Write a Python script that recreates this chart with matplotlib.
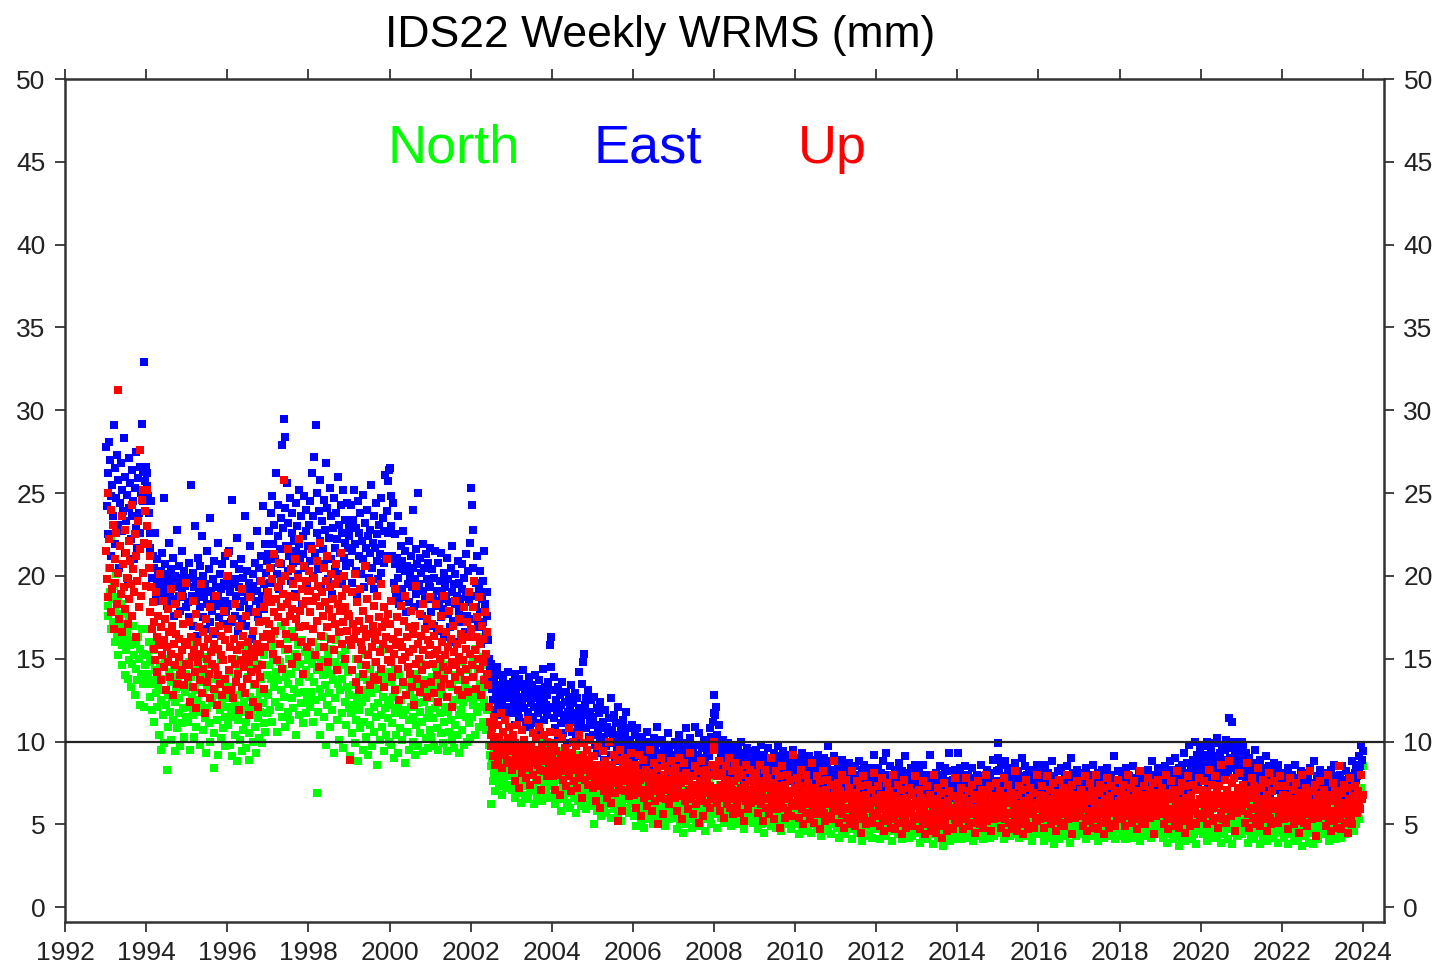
import numpy as np
import matplotlib
matplotlib.use("Agg")
import matplotlib.pyplot as plt

plt.rcParams['font.family'] = ['Liberation Sans', 'DejaVu Sans']

# weekly WRMS values, one row per year (1993..2023), in units of 0.1 mm
years = list(range(1993, 2024))

north_wrms = [
    [215, 198, 182, 176, 205, 190, 168, 222, 186, 172, 194, 160, 178, 201, 165, 187, 152, 174, 169, 183, 158, 146, 177, 162, 140, 171, 155, 166, 138, 149, 176, 158, 133, 161, 147, 170, 152, 128, 159, 144, 137, 163, 150, 122, 156, 141, 168, 135, 153, 121, 146, 139],
    [168, 152, 141, 160, 127, 148, 135, 119, 155, 137, 112, 143, 129, 158, 121, 134, 104, 146, 125, 95, 138, 116, 131, 99, 150, 122, 83, 128, 109, 142, 118, 136, 101, 127, 113, 145, 94, 124, 132, 108, 139, 117, 126, 97, 133, 111, 147, 120, 103, 130, 115, 141],
    [134, 112, 148, 121, 95, 139, 127, 158, 116, 103, 131, 144, 109, 125, 162, 118, 98, 136, 122, 141, 107, 129, 151, 114, 93, 133, 120, 146, 111, 126, 100, 138, 123, 155, 84, 105, 130, 143, 113, 92, 128, 137, 119, 102, 149, 124, 108, 135, 115, 97, 132, 121],
    [126, 110, 142, 98, 119, 133, 91, 115, 150, 104, 122, 137, 88, 113, 128, 145, 101, 118, 94, 131, 107, 124, 156, 112, 96, 120, 139, 105, 89, 127, 116, 143, 100, 121, 134, 109, 93, 125, 147, 114, 102, 130, 118, 138, 99, 123, 111, 152, 106, 129, 117, 140],
    [128, 146, 119, 157, 138, 112, 151, 133, 165, 124, 142, 106, 159, 137, 121, 148, 131, 170, 115, 144, 127, 155, 109, 139, 162, 118, 135, 150, 113, 141, 126, 167, 120, 132, 153, 104, 145, 129, 158, 116, 136, 147, 123, 161, 111, 140, 130, 154, 117, 143, 125, 149],
    [139, 121, 154, 130, 147, 112, 160, 136, 125, 151, 69, 143, 118, 157, 132, 104, 149, 127, 140, 115, 163, 134, 98, 145, 122, 153, 129, 109, 141, 156, 119, 137, 93, 148, 126, 161, 113, 135, 144, 101, 131, 152, 117, 138, 96, 146, 124, 155, 110, 133, 142, 120],
    [128, 91, 117, 143, 105, 134, 122, 99, 150, 113, 127, 88, 139, 119, 108, 146, 124, 95, 131, 112, 153, 103, 126, 137, 92, 118, 144, 110, 129, 97, 135, 121, 106, 148, 115, 86, 132, 123, 140, 101, 116, 155, 109, 127, 94, 138, 120, 104, 142, 114, 125, 100],
    [122, 98, 136, 111, 127, 90, 144, 117, 104, 132, 120, 93, 140, 108, 125, 149, 101, 116, 134, 87, 119, 128, 106, 145, 113, 95, 130, 121, 138, 100, 115, 126, 92, 141, 110, 123, 97, 135, 118, 105, 147, 112, 129, 94, 124, 137, 102, 114, 131, 96, 119, 107],
    [126, 103, 139, 114, 97, 131, 120, 145, 108, 123, 95, 136, 117, 150, 105, 128, 99, 142, 112, 121, 134, 94, 118, 127, 106, 146, 113, 101, 133, 122, 96, 140, 110, 125, 104, 137, 116, 93, 130, 119, 148, 107, 124, 98, 135, 115, 129, 100, 143, 111, 126, 102],
    [131, 115, 148, 122, 139, 104, 156, 127, 118, 144, 109, 135, 163, 121, 130, 112, 151, 125, 138, 107, 146, 119, 133, 98, 92, 85, 62, 88, 76, 94, 81, 70, 97, 84, 78, 90, 73, 86, 99, 80, 68, 91, 77, 87, 83, 72, 95, 79, 88, 74, 82, 93],
    [85, 71, 93, 79, 66, 88, 75, 98, 82, 69, 90, 77, 63, 86, 73, 95, 80, 68, 91, 76, 84, 65, 89, 72, 97, 81, 70, 87, 74, 62, 92, 78, 83, 67, 94, 76, 71, 88, 80, 64, 86, 75, 99, 79, 69, 85, 73, 90, 77, 66, 82, 74],
    [80, 67, 91, 74, 62, 85, 71, 77, 94, 65, 83, 70, 58, 88, 75, 68, 81, 73, 96, 63, 86, 72, 79, 60, 84, 69, 90, 76, 66, 82, 57, 78, 87, 64, 73, 92, 70, 61, 84, 75, 68, 89, 72, 80, 59, 77, 66, 86, 71, 63, 79, 74],
    [72, 61, 50, 79, 66, 84, 58, 70, 75, 63, 81, 55, 68, 73, 60, 86, 65, 57, 77, 69, 62, 82, 71, 54, 74, 64, 78, 59, 67, 83, 61, 70, 56, 76, 66, 72, 52, 80, 63, 69, 58, 74, 65, 85, 60, 71, 57, 67, 73, 62, 78, 64],
    [66, 55, 72, 60, 49, 68, 63, 75, 57, 64, 52, 70, 59, 67, 48, 73, 61, 56, 69, 65, 53, 77, 58, 62, 71, 50, 66, 60, 74, 55, 63, 68, 51, 59, 76, 64, 57, 70, 54, 62, 67, 49, 72, 58, 65, 61, 53, 69, 56, 73, 60, 64],
    [63, 54, 70, 58, 47, 66, 61, 73, 52, 60, 68, 56, 45, 64, 59, 71, 50, 62, 57, 67, 53, 74, 60, 48, 65, 55, 69, 62, 51, 58, 72, 56, 63, 49, 67, 60, 54, 70, 57, 64, 46, 61, 66, 53, 59, 75, 55, 62, 50, 68, 58, 61],
    [62, 56, 71, 59, 48, 66, 63, 74, 54, 60, 68, 57, 51, 65, 61, 72, 53, 58, 67, 55, 64, 49, 70, 59, 62, 52, 69, 57, 63, 75, 55, 60, 50, 66, 58, 71, 54, 61, 47, 65, 59, 68, 56, 62, 52, 73, 57, 64, 60, 51, 67, 58],
    [60, 52, 68, 56, 47, 64, 59, 71, 50, 58, 66, 54, 45, 62, 57, 69, 51, 60, 55, 65, 49, 72, 58, 53, 63, 56, 67, 48, 61, 57, 70, 52, 59, 46, 64, 55, 62, 50, 68, 58, 54, 66, 51, 60, 57, 63, 47, 59, 65, 53, 61, 56],
    [57, 50, 65, 53, 44, 61, 56, 68, 48, 55, 63, 51, 46, 59, 54, 66, 49, 57, 52, 62, 45, 70, 55, 50, 60, 53, 64, 47, 58, 54, 67, 49, 56, 43, 61, 52, 59, 48, 65, 55, 51, 63, 46, 57, 53, 60, 44, 56, 62, 50, 58, 54],
    [55, 48, 62, 51, 42, 59, 54, 66, 46, 53, 60, 49, 44, 57, 52, 64, 47, 55, 50, 61, 41, 68, 53, 48, 58, 51, 63, 45, 56, 52, 65, 47, 54, 40, 59, 50, 57, 46, 62, 53, 49, 60, 43, 55, 51, 58, 42, 54, 61, 48, 56, 52],
    [54, 47, 61, 50, 41, 57, 53, 64, 45, 52, 59, 48, 43, 56, 51, 63, 46, 54, 49, 60, 40, 65, 52, 47, 57, 50, 62, 44, 55, 51, 58, 46, 53, 41, 59, 49, 56, 45, 61, 52, 48, 60, 42, 54, 50, 57, 43, 53, 62, 47, 55, 51],
    [52, 45, 59, 48, 39, 56, 51, 63, 43, 50, 57, 46, 41, 54, 49, 61, 44, 52, 47, 58, 38, 65, 50, 45, 55, 48, 60, 42, 53, 49, 57, 44, 51, 37, 56, 47, 54, 43, 59, 50, 46, 62, 40, 52, 48, 55, 41, 51, 60, 45, 53, 49],
    [53, 46, 60, 49, 41, 57, 52, 64, 44, 51, 58, 47, 42, 55, 50, 62, 45, 53, 48, 59, 40, 66, 51, 46, 56, 49, 61, 43, 54, 50, 58, 45, 52, 41, 57, 48, 55, 44, 60, 51, 47, 63, 42, 53, 49, 56, 43, 52, 61, 46, 54, 50],
    [50, 58, 45, 55, 62, 48, 53, 41, 57, 51, 64, 46, 54, 49, 60, 43, 56, 52, 47, 59, 44, 55, 50, 66, 48, 53, 42, 58, 51, 46, 61, 54, 49, 57, 43, 52, 63, 47, 55, 50, 45, 59, 53, 40, 56, 51, 48, 62, 44, 54, 57, 49],
    [49, 56, 44, 53, 61, 47, 52, 40, 57, 50, 63, 45, 54, 48, 59, 42, 55, 51, 46, 58, 38, 53, 49, 65, 47, 52, 41, 57, 50, 44, 60, 53, 48, 56, 43, 51, 62, 46, 54, 49, 39, 58, 52, 45, 55, 50, 47, 61, 43, 53, 56, 48],
    [52, 47, 58, 44, 55, 61, 49, 53, 41, 57, 50, 64, 46, 54, 48, 59, 43, 56, 51, 45, 60, 52, 47, 55, 40, 58, 50, 63, 44, 53, 49, 57, 42, 54, 51, 46, 62, 48, 55, 52, 43, 59, 50, 45, 56, 53, 41, 58, 47, 54, 65, 49],
    [48, 55, 43, 52, 59, 46, 53, 41, 57, 50, 62, 45, 54, 49, 58, 42, 56, 51, 47, 60, 44, 53, 48, 64, 46, 52, 40, 57, 50, 45, 61, 54, 49, 56, 43, 51, 63, 47, 55, 48, 42, 58, 52, 46, 55, 50, 44, 60, 45, 53, 57, 49],
    [51, 45, 57, 42, 54, 60, 48, 52, 39, 56, 49, 63, 44, 53, 47, 58, 41, 55, 50, 43, 59, 51, 46, 54, 37, 57, 49, 62, 42, 52, 48, 56, 40, 53, 50, 45, 61, 47, 54, 51, 41, 58, 49, 44, 55, 52, 38, 57, 46, 53, 65, 48],
    [49, 56, 44, 53, 60, 47, 52, 40, 58, 50, 63, 45, 55, 48, 59, 42, 54, 51, 46, 61, 43, 53, 49, 66, 46, 52, 39, 57, 50, 44, 62, 54, 48, 56, 41, 51, 64, 47, 55, 49, 38, 59, 52, 45, 57, 50, 43, 60, 46, 53, 58, 48],
    [51, 44, 57, 47, 54, 61, 46, 52, 39, 56, 49, 63, 43, 53, 48, 58, 41, 55, 50, 45, 60, 51, 46, 54, 38, 57, 49, 62, 42, 52, 47, 56, 40, 53, 50, 44, 61, 48, 55, 51, 42, 59, 49, 45, 56, 52, 39, 57, 46, 53, 64, 48],
    [48, 54, 42, 51, 58, 45, 50, 38, 56, 49, 61, 44, 53, 47, 57, 40, 54, 50, 45, 59, 41, 52, 47, 63, 44, 51, 37, 55, 48, 43, 60, 52, 46, 55, 39, 50, 62, 45, 53, 47, 38, 57, 51, 43, 54, 49, 41, 58, 44, 52, 56, 47],
    [50, 44, 57, 47, 54, 60, 45, 52, 40, 56, 49, 62, 43, 53, 48, 58, 41, 55, 50, 46, 59, 51, 47, 54, 42, 57, 50, 61, 44, 53, 48, 56, 45, 54, 51, 47, 60, 49, 56, 52, 46, 62, 55, 50, 63, 58, 53, 68, 60, 72, 66, 85],
]

east_wrms = [
    [278, 242, 262, 225, 281, 270, 248, 212, 255, 236, 291, 265, 219, 247, 273, 231, 258, 205, 244, 268, 227, 252, 239, 283, 214, 260, 233, 249, 198, 271, 241, 256, 222, 264, 236, 245, 210, 253, 229, 275, 217, 259, 238, 266, 226, 250, 292, 263, 245, 329, 257, 266],
    [262, 254, 248, 238, 226, 217, 245, 199, 212, 193, 205, 226, 188, 197, 210, 201, 192, 185, 203, 196, 214, 189, 199, 247, 207, 193, 182, 201, 195, 220, 190, 204, 186, 198, 211, 176, 193, 200, 184, 228, 196, 188, 206, 179, 199, 191, 215, 187, 203, 194, 181, 198],
    [196, 184, 208, 175, 199, 255, 188, 202, 170, 193, 230, 186, 197, 164, 211, 189, 181, 206, 192, 224, 175, 200, 187, 195, 168, 215, 183, 191, 204, 172, 235, 190, 179, 198, 186, 209, 165, 193, 182, 220, 188, 175, 201, 192, 183, 207, 171, 196, 185, 212, 178, 194],
    [200, 182, 215, 190, 172, 246, 195, 183, 207, 176, 198, 188, 223, 167, 193, 204, 181, 210, 190, 174, 199, 185, 236, 192, 170, 203, 187, 196, 180, 218, 189, 162, 201, 194, 178, 208, 185, 227, 191, 175, 205, 197, 183, 212, 188, 242, 195, 180, 219, 202, 190, 209],
    [213, 227, 196, 238, 205, 248, 219, 186, 231, 210, 262, 201, 224, 243, 192, 216, 235, 207, 279, 229, 295, 284, 241, 218, 256, 203, 232, 212, 247, 197, 226, 238, 208, 221, 189, 244, 215, 230, 201, 252, 219, 209, 236, 183, 224, 213, 248, 205, 227, 240, 196, 218],
    [231, 209, 245, 218, 262, 200, 236, 272, 214, 291, 226, 250, 204, 239, 221, 258, 193, 233, 216, 246, 207, 228, 268, 212, 241, 198, 223, 253, 210, 236, 189, 229, 247, 217, 204, 238, 222, 260, 201, 231, 214, 243, 195, 226, 252, 211, 234, 220, 206, 244, 217, 229],
    [224, 208, 243, 215, 196, 234, 252, 219, 203, 229, 188, 245, 212, 226, 238, 201, 221, 249, 210, 193, 232, 217, 206, 240, 224, 199, 228, 214, 255, 205, 220, 236, 192, 217, 244, 209, 225, 198, 231, 213, 247, 202, 219, 235, 208, 227, 261, 212, 239, 257, 226, 264],
    [265, 248, 230, 212, 244, 196, 207, 225, 188, 211, 199, 236, 183, 204, 218, 192, 209, 227, 187, 203, 215, 178, 206, 195, 221, 184, 200, 212, 193, 240, 205, 181, 198, 216, 189, 207, 250, 195, 183, 211, 202, 176, 219, 191, 205, 186, 213, 198, 170, 208, 196, 217],
    [193, 178, 204, 186, 170, 199, 215, 182, 191, 167, 208, 185, 197, 175, 214, 189, 180, 202, 163, 193, 186, 211, 177, 198, 184, 169, 205, 190, 218, 173, 195, 183, 201, 160, 188, 209, 179, 196, 186, 172, 207, 192, 181, 199, 166, 213, 187, 176, 203, 190, 184, 220],
    [253, 243, 228, 205, 188, 174, 196, 181, 212, 169, 192, 178, 203, 159, 186, 197, 172, 215, 183, 165, 190, 176, 161, 150, 143, 138, 147, 132, 125, 141, 136, 119, 129, 145, 122, 134, 127, 140, 116, 131, 124, 137, 128, 113, 135, 121, 130, 142, 118, 126, 133, 120],
    [128, 117, 136, 122, 141, 110, 131, 125, 119, 138, 114, 127, 133, 107, 124, 143, 120, 130, 112, 135, 126, 118, 139, 109, 129, 123, 134, 115, 128, 121, 140, 111, 126, 132, 117, 137, 124, 106, 130, 119, 144, 125, 113, 133, 122, 128, 116, 136, 121, 158, 163, 145],
    [131, 120, 114, 139, 108, 125, 117, 133, 102, 119, 128, 111, 122, 136, 105, 116, 124, 113, 130, 99, 118, 127, 110, 121, 134, 106, 115, 123, 112, 129, 101, 117, 126, 109, 120, 142, 115, 112, 135, 119, 148, 153, 122, 108, 126, 116, 131, 103, 118, 113, 125, 110],
    [115, 104, 127, 98, 110, 120, 93, 106, 117, 101, 124, 96, 108, 112, 89, 103, 119, 97, 109, 85, 105, 114, 99, 126, 92, 107, 102, 116, 88, 100, 111, 95, 104, 121, 90, 98, 109, 83, 103, 113, 94, 106, 100, 118, 91, 97, 108, 87, 101, 95, 110, 98],
    [96, 88, 104, 82, 93, 108, 86, 99, 91, 77, 95, 103, 84, 90, 98, 79, 92, 106, 87, 94, 81, 100, 89, 96, 75, 91, 102, 85, 97, 88, 109, 83, 93, 78, 99, 90, 86, 101, 80, 94, 89, 97, 74, 92, 105, 84, 95, 88, 79, 98, 91, 86],
    [92, 85, 100, 79, 89, 96, 83, 104, 88, 76, 94, 86, 99, 81, 91, 108, 84, 93, 78, 97, 87, 102, 90, 74, 95, 83, 89, 109, 98, 86, 80, 92, 105, 85, 88, 77, 96, 90, 83, 101, 87, 79, 94, 99, 84, 91, 97, 108, 103, 95, 112, 117],
    [128, 116, 121, 99, 104, 95, 110, 88, 97, 92, 84, 101, 90, 86, 96, 81, 93, 89, 99, 83, 91, 87, 78, 94, 85, 97, 82, 90, 88, 79, 95, 86, 92, 84, 100, 80, 89, 93, 77, 87, 91, 83, 96, 85, 78, 90, 88, 82, 94, 86, 80, 92],
    [88, 81, 95, 77, 86, 91, 74, 84, 98, 80, 87, 79, 92, 83, 72, 89, 85, 96, 78, 82, 90, 76, 86, 81, 93, 84, 73, 88, 80, 97, 82, 87, 75, 91, 83, 79, 94, 85, 71, 86, 81, 89, 77, 84, 92, 80, 87, 76, 83, 95, 79, 85],
    [84, 77, 90, 73, 81, 87, 70, 79, 93, 76, 83, 75, 88, 79, 69, 85, 81, 91, 74, 78, 86, 72, 82, 77, 89, 80, 70, 84, 76, 92, 78, 83, 71, 87, 79, 75, 90, 81, 68, 82, 77, 85, 97, 80, 88, 76, 83, 72, 79, 91, 75, 81],
    [80, 74, 86, 70, 78, 83, 67, 76, 89, 73, 79, 72, 84, 76, 66, 81, 78, 87, 71, 75, 82, 69, 79, 74, 85, 77, 67, 80, 73, 88, 75, 79, 68, 83, 76, 72, 86, 78, 65, 79, 74, 82, 70, 77, 84, 73, 80, 69, 76, 92, 72, 78],
    [78, 72, 84, 69, 77, 81, 66, 75, 88, 71, 78, 70, 93, 74, 65, 80, 76, 85, 70, 74, 80, 67, 77, 72, 83, 75, 66, 79, 71, 87, 73, 78, 67, 82, 75, 70, 91, 76, 64, 78, 73, 81, 69, 76, 84, 71, 79, 68, 74, 86, 70, 77],
    [76, 70, 82, 67, 75, 79, 64, 73, 86, 69, 76, 68, 80, 72, 63, 78, 74, 92, 68, 72, 79, 65, 75, 70, 81, 73, 64, 77, 69, 85, 71, 76, 66, 80, 73, 68, 84, 74, 62, 76, 71, 93, 67, 74, 82, 69, 77, 66, 72, 83, 68, 75],
    [93, 78, 70, 84, 66, 74, 79, 63, 72, 85, 68, 75, 67, 80, 71, 62, 77, 73, 84, 67, 71, 78, 64, 74, 69, 80, 72, 63, 76, 68, 86, 70, 75, 65, 79, 72, 67, 83, 73, 62, 75, 70, 81, 66, 73, 89, 68, 76, 65, 71, 82, 90],
    [99, 83, 76, 70, 86, 73, 66, 79, 74, 88, 69, 77, 72, 84, 67, 75, 80, 71, 64, 78, 73, 87, 68, 76, 70, 82, 74, 65, 79, 72, 90, 69, 77, 71, 85, 66, 74, 80, 70, 76, 83, 68, 73, 78, 64, 75, 81, 69, 77, 72, 86, 74],
    [76, 70, 83, 67, 74, 79, 64, 72, 86, 69, 75, 68, 81, 73, 63, 78, 74, 88, 68, 72, 79, 65, 75, 70, 82, 73, 64, 77, 69, 84, 71, 76, 66, 80, 73, 68, 85, 74, 63, 76, 71, 90, 67, 74, 81, 69, 77, 66, 72, 83, 70, 75],
    [74, 69, 81, 66, 73, 78, 63, 71, 84, 68, 74, 67, 80, 72, 62, 77, 73, 86, 67, 71, 78, 64, 74, 69, 81, 72, 63, 76, 68, 83, 70, 75, 65, 79, 72, 67, 84, 73, 62, 75, 70, 80, 66, 73, 91, 68, 76, 65, 71, 82, 69, 74],
    [75, 69, 80, 66, 73, 77, 64, 71, 84, 68, 74, 67, 79, 72, 63, 77, 73, 85, 67, 71, 78, 65, 74, 69, 82, 72, 64, 76, 68, 81, 70, 75, 66, 79, 72, 67, 83, 73, 63, 75, 70, 88, 66, 74, 80, 69, 77, 68, 72, 84, 70, 76],
    [74, 79, 68, 82, 72, 77, 85, 70, 76, 66, 81, 74, 88, 71, 78, 73, 83, 69, 77, 90, 72, 80, 75, 68, 84, 76, 71, 86, 79, 74, 93, 70, 81, 77, 87, 73, 79, 98, 75, 84, 72, 89, 80, 76, 100, 83, 78, 92, 74, 86, 81, 95],
    [88, 80, 97, 76, 85, 92, 79, 100, 83, 74, 90, 86, 81, 95, 78, 87, 99, 82, 76, 91, 84, 102, 79, 88, 93, 80, 85, 97, 77, 89, 83, 95, 101, 86, 81, 99, 114, 90, 84, 112, 96, 88, 100, 92, 85, 98, 81, 89, 94, 79, 87, 83],
    [100, 91, 98, 85, 80, 93, 76, 88, 82, 74, 90, 79, 84, 71, 87, 77, 81, 95, 73, 83, 78, 86, 70, 80, 89, 75, 82, 77, 84, 72, 79, 91, 74, 81, 76, 85, 69, 78, 83, 72, 80, 87, 75, 79, 71, 82, 77, 86, 73, 78, 81, 75],
    [76, 70, 81, 67, 73, 78, 64, 72, 84, 68, 74, 67, 80, 72, 63, 77, 73, 86, 67, 71, 78, 64, 74, 69, 82, 72, 63, 76, 68, 81, 70, 75, 65, 79, 72, 67, 84, 73, 62, 75, 70, 88, 66, 73, 79, 69, 76, 65, 71, 83, 69, 74],
    [72, 78, 66, 75, 81, 69, 74, 64, 77, 71, 83, 68, 75, 72, 86, 67, 73, 79, 70, 76, 65, 74, 80, 69, 72, 85, 71, 77, 68, 74, 82, 70, 76, 73, 79, 67, 75, 88, 72, 78, 74, 81, 77, 84, 79, 86, 82, 91, 85, 98, 89, 94],
]

up_wrms = [
    [215, 198, 250, 187, 222, 205, 178, 240, 192, 231, 168, 210, 196, 226, 183, 312, 202, 174, 218, 189, 236, 166, 207, 193, 228, 180, 214, 199, 171, 221, 186, 209, 195, 243, 176, 204, 190, 225, 163, 212, 197, 233, 181, 216, 276, 188, 246, 202, 252, 220, 239, 194],
    [252, 230, 219, 205, 178, 212, 193, 168, 184, 156, 172, 149, 190, 163, 142, 176, 158, 201, 137, 169, 152, 185, 145, 161, 174, 131, 157, 180, 148, 166, 139, 192, 153, 170, 128, 159, 183, 146, 165, 135, 177, 151, 162, 140, 188, 155, 143, 171, 134, 160, 196, 147],
    [158, 139, 172, 146, 124, 163, 151, 185, 133, 155, 142, 177, 120, 160, 148, 169, 137, 153, 195, 129, 166, 144, 157, 117, 174, 150, 136, 162, 141, 181, 126, 154, 147, 167, 132, 159, 145, 188, 122, 156, 140, 170, 135, 152, 164, 128, 149, 179, 138, 161, 131, 200],
    [214, 168, 143, 157, 131, 174, 150, 126, 162, 147, 183, 136, 155, 141, 170, 119, 158, 149, 192, 133, 164, 145, 129, 176, 153, 138, 160, 116, 148, 187, 142, 156, 124, 167, 151, 135, 178, 144, 159, 121, 172, 154, 139, 197, 146, 163, 132, 181, 157, 173, 186, 165],
    [190, 171, 205, 162, 184, 198, 153, 178, 213, 167, 186, 149, 193, 175, 208, 159, 181, 197, 144, 189, 258, 172, 200, 165, 183, 216, 156, 188, 176, 204, 147, 180, 195, 163, 210, 174, 187, 151, 199, 169, 222, 179, 160, 192, 183, 141, 206, 170, 185, 197, 157, 191],
    [203, 178, 191, 160, 216, 185, 168, 199, 152, 187, 209, 173, 194, 145, 182, 220, 164, 190, 176, 205, 157, 184, 197, 169, 212, 148, 180, 193, 162, 201, 175, 186, 155, 195, 171, 207, 143, 183, 198, 166, 179, 214, 159, 188, 172, 200, 150, 181, 192, 167, 177, 161],
    [176, 89, 158, 190, 143, 171, 162, 201, 136, 167, 184, 150, 173, 131, 192, 160, 155, 179, 141, 168, 206, 146, 163, 186, 152, 174, 134, 165, 197, 157, 170, 139, 182, 161, 148, 188, 166, 137, 175, 154, 195, 144, 169, 159, 181, 133, 172, 163, 210, 149, 177, 156],
    [171, 148, 185, 139, 162, 153, 192, 131, 158, 175, 144, 166, 125, 160, 182, 149, 157, 136, 173, 151, 188, 128, 163, 145, 169, 154, 141, 179, 133, 156, 165, 122, 170, 147, 194, 138, 159, 150, 177, 130, 164, 143, 183, 155, 135, 168, 146, 174, 127, 161, 152, 187],
    [158, 136, 171, 147, 129, 164, 153, 183, 140, 155, 124, 168, 150, 176, 133, 160, 145, 188, 138, 152, 166, 127, 157, 143, 179, 135, 162, 148, 121, 170, 154, 139, 185, 146, 159, 131, 174, 151, 142, 165, 128, 161, 149, 181, 137, 156, 144, 172, 130, 163, 190, 153],
    [168, 146, 181, 139, 197, 155, 163, 132, 175, 150, 187, 144, 159, 128, 170, 148, 162, 137, 178, 153, 141, 166, 134, 121, 112, 104, 97, 108, 91, 115, 99, 86, 103, 95, 110, 88, 101, 93, 117, 97, 84, 106, 99, 92, 113, 96, 89, 102, 94, 109, 87, 100],
    [95, 83, 104, 88, 76, 99, 91, 110, 85, 93, 72, 97, 89, 107, 81, 94, 101, 86, 78, 96, 90, 113, 84, 92, 74, 98, 87, 105, 80, 93, 89, 102, 77, 95, 86, 109, 83, 91, 71, 97, 88, 104, 82, 94, 90, 100, 79, 92, 86, 106, 84, 96],
    [90, 79, 99, 84, 71, 94, 86, 105, 80, 88, 68, 92, 84, 102, 77, 89, 96, 82, 73, 91, 85, 108, 79, 87, 70, 93, 83, 100, 76, 88, 84, 97, 72, 90, 81, 104, 78, 86, 66, 92, 83, 99, 77, 89, 85, 95, 74, 87, 81, 101, 79, 91],
    [83, 72, 91, 77, 64, 86, 79, 97, 73, 81, 60, 85, 76, 94, 70, 82, 88, 75, 66, 84, 78, 100, 71, 80, 63, 86, 75, 92, 69, 81, 77, 89, 52, 83, 74, 95, 71, 79, 58, 85, 76, 90, 70, 82, 78, 87, 67, 80, 74, 93, 72, 84],
    [78, 68, 86, 73, 60, 81, 74, 92, 69, 77, 55, 80, 71, 89, 66, 78, 83, 70, 61, 79, 73, 95, 67, 76, 58, 81, 70, 87, 64, 76, 72, 84, 50, 78, 69, 90, 66, 75, 56, 80, 71, 85, 65, 77, 73, 82, 62, 75, 69, 88, 67, 79],
    [76, 66, 84, 71, 58, 79, 72, 90, 67, 75, 53, 78, 69, 87, 64, 76, 81, 68, 59, 77, 71, 93, 65, 74, 56, 79, 68, 85, 62, 74, 70, 82, 51, 76, 67, 88, 64, 73, 55, 78, 69, 83, 63, 75, 71, 80, 60, 73, 67, 86, 65, 95],
    [100, 84, 72, 63, 79, 68, 88, 58, 74, 66, 81, 70, 54, 77, 69, 85, 62, 73, 67, 90, 60, 75, 71, 82, 56, 76, 65, 87, 70, 61, 78, 68, 83, 57, 72, 66, 80, 69, 52, 74, 64, 86, 67, 59, 76, 71, 83, 63, 70, 78, 65, 73],
    [72, 64, 81, 69, 57, 76, 67, 86, 62, 71, 52, 74, 66, 83, 60, 72, 78, 65, 56, 73, 68, 90, 61, 70, 53, 75, 64, 82, 59, 71, 67, 79, 48, 73, 63, 85, 60, 69, 54, 74, 65, 80, 58, 70, 66, 77, 55, 69, 63, 92, 61, 72],
    [70, 61, 78, 66, 54, 73, 64, 83, 59, 68, 50, 71, 63, 80, 57, 69, 75, 62, 53, 70, 65, 87, 58, 67, 51, 72, 61, 79, 56, 68, 64, 76, 47, 70, 60, 82, 57, 66, 52, 71, 62, 77, 55, 67, 63, 74, 53, 66, 60, 88, 58, 69],
    [67, 58, 75, 63, 51, 70, 61, 80, 56, 65, 48, 68, 60, 77, 54, 66, 72, 59, 50, 67, 62, 82, 55, 64, 49, 69, 58, 76, 53, 65, 61, 73, 45, 67, 57, 79, 54, 63, 50, 68, 59, 74, 52, 64, 60, 71, 51, 63, 57, 81, 55, 66],
    [65, 56, 73, 61, 49, 68, 59, 78, 54, 63, 46, 66, 58, 75, 52, 64, 70, 57, 48, 65, 60, 80, 53, 62, 47, 67, 56, 74, 51, 63, 59, 71, 44, 65, 55, 77, 52, 61, 48, 66, 57, 72, 50, 62, 58, 69, 49, 61, 55, 79, 53, 64],
    [63, 54, 71, 59, 47, 66, 57, 76, 52, 61, 44, 64, 56, 73, 50, 62, 68, 55, 46, 63, 58, 80, 51, 60, 45, 65, 54, 72, 49, 61, 57, 69, 42, 63, 53, 75, 50, 59, 46, 64, 55, 70, 48, 60, 56, 67, 47, 59, 53, 78, 51, 62],
    [58, 67, 52, 63, 72, 55, 61, 47, 66, 57, 78, 53, 64, 59, 70, 49, 62, 56, 74, 51, 60, 65, 45, 68, 58, 54, 76, 61, 50, 63, 57, 71, 48, 66, 59, 55, 80, 62, 52, 69, 56, 60, 73, 46, 64, 58, 53, 67, 61, 75, 54, 65],
    [62, 55, 70, 58, 48, 66, 60, 78, 53, 64, 45, 67, 57, 74, 51, 63, 69, 56, 47, 65, 59, 82, 52, 61, 46, 68, 55, 73, 50, 62, 58, 71, 44, 64, 54, 77, 51, 60, 47, 66, 57, 72, 49, 61, 56, 69, 48, 60, 54, 80, 52, 63],
    [59, 68, 53, 64, 73, 56, 62, 48, 67, 58, 79, 54, 65, 60, 71, 50, 63, 57, 75, 52, 61, 66, 46, 69, 59, 55, 77, 62, 51, 64, 58, 72, 49, 67, 60, 56, 80, 63, 53, 70, 57, 61, 74, 44, 65, 59, 54, 68, 62, 76, 55, 66],
    [63, 56, 71, 59, 49, 67, 61, 79, 54, 65, 46, 68, 58, 75, 52, 64, 70, 57, 48, 66, 60, 80, 53, 62, 47, 69, 56, 74, 51, 63, 59, 72, 44, 65, 55, 78, 52, 61, 48, 67, 58, 73, 50, 62, 57, 70, 49, 61, 55, 77, 53, 64],
    [60, 69, 54, 65, 74, 57, 63, 49, 68, 59, 80, 55, 66, 61, 72, 51, 64, 58, 76, 53, 62, 67, 47, 70, 60, 56, 82, 63, 52, 65, 59, 73, 50, 68, 61, 57, 78, 64, 54, 71, 58, 62, 75, 44, 66, 60, 55, 69, 63, 77, 56, 67],
    [64, 57, 72, 60, 50, 68, 62, 80, 55, 66, 47, 69, 59, 76, 53, 65, 71, 58, 49, 67, 61, 82, 54, 63, 48, 70, 57, 75, 52, 64, 60, 73, 45, 66, 56, 79, 53, 62, 49, 68, 59, 74, 51, 63, 58, 71, 50, 62, 56, 78, 54, 65],
    [62, 71, 55, 67, 76, 58, 65, 50, 70, 61, 83, 56, 68, 63, 74, 52, 66, 60, 79, 54, 64, 69, 48, 73, 62, 57, 86, 65, 53, 67, 61, 77, 51, 71, 63, 59, 88, 66, 55, 75, 60, 64, 78, 46, 68, 62, 57, 72, 65, 81, 58, 69],
    [66, 58, 74, 62, 51, 70, 63, 87, 56, 67, 48, 71, 60, 78, 54, 66, 73, 59, 50, 69, 62, 84, 55, 64, 49, 72, 58, 77, 53, 65, 61, 75, 46, 68, 57, 81, 54, 63, 50, 70, 60, 76, 52, 64, 59, 73, 51, 63, 57, 79, 55, 66],
    [59, 68, 53, 64, 73, 56, 62, 47, 67, 58, 78, 54, 65, 60, 71, 50, 63, 57, 75, 52, 61, 66, 45, 69, 59, 55, 80, 62, 51, 64, 58, 72, 49, 67, 60, 56, 82, 63, 53, 70, 57, 61, 74, 43, 65, 59, 54, 68, 62, 76, 55, 66],
    [63, 56, 71, 59, 49, 67, 61, 80, 54, 65, 46, 68, 58, 75, 52, 64, 70, 57, 48, 66, 60, 85, 53, 62, 47, 69, 56, 74, 51, 63, 59, 72, 45, 65, 55, 78, 52, 61, 50, 67, 58, 73, 60, 64, 57, 70, 62, 66, 59, 80, 65, 68],
]

labels = ['North', 'East', 'Up']
colors = ['#00ff00', '#0000ff', '#ff0000']


def to_series(rows):
    # spread each year's weekly values evenly over that year
    t, v = [], []
    for yr, row in zip(years, rows):
        n = len(row)
        for i, val in enumerate(row):
            t.append(yr + (i + 0.5) / n)
            v.append(val / 10.0)
    return np.array(t), np.array(v)


fig = plt.figure(figsize=(14.45, 9.67), dpi=100)
ax = fig.add_axes([0.045, 0.0465, 0.9128, 0.8718])

for rows, c in zip([north_wrms, east_wrms, up_wrms], colors):
    t, v = to_series(rows)
    ax.scatter(t, v, s=30, marker='s', color=c, linewidths=0, zorder=2)

ax.axhline(10, color='#222222', lw=1.6, zorder=5)

ax.set_xlim(1992, 2024.52)
ax.set_ylim(-0.9, 50)
ax.set_xticks(np.arange(1992, 2025, 2))
ax.set_yticks(np.arange(0, 51, 5))

ax.tick_params(axis='x', which='both', direction='out', length=7, width=1.2,
               top=True, bottom=True, labeltop=False, labelsize=19, pad=7, colors='#222222')
ax.tick_params(axis='y', which='both', direction='out', length=7, width=1.2,
               left=True, right=True, labelright=True, labelsize=19, pad=7, colors='#222222')
for sp in ax.spines.values():
    sp.set_linewidth(1.8)
    sp.set_color('#333333')

fig.text(0.4567, 0.951, 'IDS22 Weekly WRMS (mm)', fontsize=32, ha='center', va='baseline')

legend_x = [0.268, 0.411, 0.552]
for lab, c, x in zip(labels, colors, legend_x):
    fig.text(x, 0.8315, lab, fontsize=39, color=c, ha='left', va='baseline')

fig.savefig('out.png', dpi=100)
